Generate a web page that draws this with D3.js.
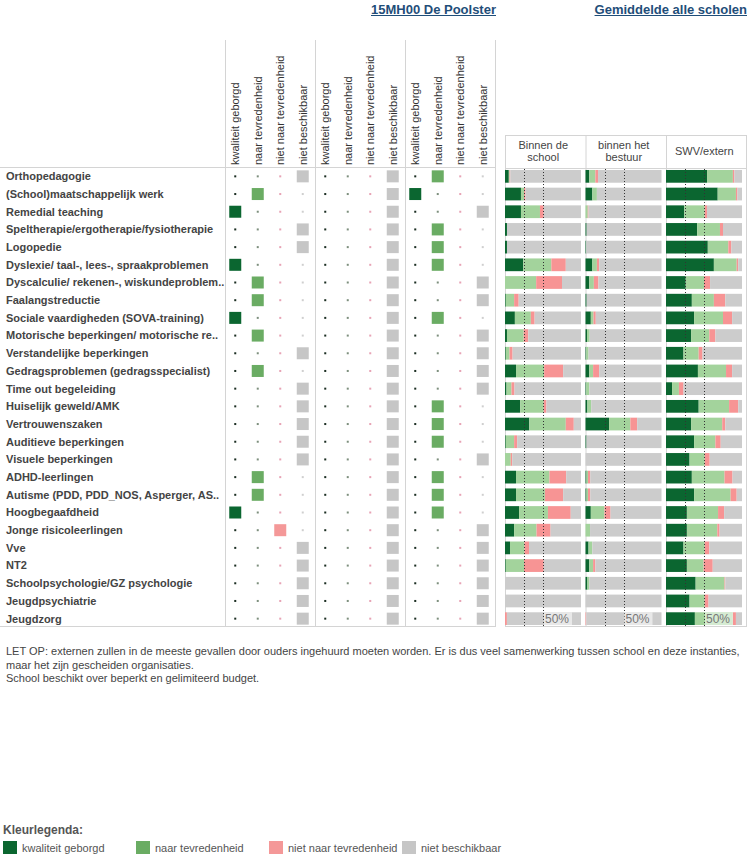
<!DOCTYPE html>
<html><head><meta charset="utf-8">
<script src="https://cdn.jsdelivr.net/npm/d3@7"></script>
<style>body{margin:0;background:#fff;} svg{display:block;font-family:"Liberation Sans",Arial,sans-serif;}</style>
</head><body><svg id="chart" width="747" height="864"></svg>
<script>
const categories = ["Orthopedagogie","(School)maatschappelijk werk","Remedial teaching","Speltherapie/ergotherapie/fysiotherapie","Logopedie","Dyslexie/ taal-, lees-, spraakproblemen","Dyscalculie/ rekenen-, wiskundeproblem..","Faalangstreductie","Sociale vaardigheden (SOVA-training)","Motorische beperkingen/ motorische re..","Verstandelijke beperkingen","Gedragsproblemen (gedragsspecialist)","Time out begeleiding","Huiselijk geweld/AMK","Vertrouwenszaken","Auditieve beperkingen","Visuele beperkingen","ADHD-leerlingen","Autisme (PDD, PDD_NOS, Asperger, AS..","Hoogbegaafdheid","Jonge risicoleerlingen","Vve","NT2","Schoolpsychologie/GZ psychologie","Jeugdpsychiatrie","Jeugdzorg"];
const statusLabels = ["kwaliteit geborgd","naar tevredenheid","niet naar tevredenheid","niet beschikbaar"];
// status index per category (0..3) for this school, per group
const schoolStatus  = [3,1,0,3,3,0,1,1,0,1,3,1,3,3,3,3,3,1,1,0,2,3,3,3,3,3];
const bestuurStatus = [3,3,3,3,3,3,3,3,3,3,3,3,3,3,3,3,3,3,3,3,3,3,3,3,3,3];
const externStatus  = [1,0,3,1,1,1,3,3,1,3,3,3,3,1,1,1,3,1,1,1,3,3,3,3,3,3];
const panelLabels = [["Binnen de","school"],["binnen het","bestuur"],["SWV/extern"]];
// averages all schools (percent)
const schoolGeborgd  = [5,21,21,2.6,2.6,24,0,1,13,2.6,1,14.5,2,20,32,1,0,14.5,14.5,18.5,12,6.6,1,0,0,0];
const schoolTevreden = [1,4,25,0,0,37,41,11,21,22,5,37,6.5,31,48,11,7.5,44,38,38,29.5,19,24,0,0,0];
const schoolNiet     = [1,2,5,0,0,19,34,6,5,6,4,25,4,3.5,10.5,4,2,22,24,30,18.5,6,26,0,0,2.5];
const bestuurGeborgd  = [5,9,0,1.5,1,9,5,1.5,7,2,1,5,1,2.5,31,1.3,0,1.3,1.3,7,0,4,5,2.5,0,0];
const bestuurTevreden = [8,6,3,0,0,6,6,0,3.5,3.5,3,5,4,5,28,0,0,2,2,18,6,5,5,2.5,0,0];
const bestuurNiet     = [3.5,0,1,0,0,3,6,0,3,0,0,8,0,0,9,0,0,3,3,8,0,0,3,0,0,1];
const externGeborgd  = [54,68,24,41,55,63,26,34,37,33,23,42,8,43,33,37,31,34,37,27.5,27.5,23,27.5,39,31,38];
const externTevreden = [34,24,27,30,27,30,24,29,38,24,20,37,9,40,41,28,20,43,48,41,40,28,22,38,20,50];
const externNiet     = [2,2,3,4,4,2,8,15,12,8,5,8,6,12,4,7,6.5,10.5,8,8,3,6,12,1,5,4];
const refTicks = [25,50];
const titles = ["15MH00 De Poolster","Gemiddelde alle scholen"];
const noteLines = ["LET OP: externen zullen in de meeste gevallen door ouders ingehuurd moeten worden. Er is dus veel samenwerking tussen school en deze instanties,","maar het zijn gescheiden organisaties.","School beschikt over beperkt en gelimiteerd budget."];

const matrixColors = ["#0b6630","#6aac63","#f49898","#c6c6c6"];
const barColors = ["#0b6630","#a3d39c","#f79494","#cccccc"];
const dotColors = ["#1b2e22","#7d8f7d","#e7a3b5","#cfcfcf"];
const lineColor = "#d4d4d4";

const svg = d3.select("#chart");
const y = d3.scaleBand().domain(categories).range([167.5,627.5]).paddingInner(0.28).paddingOuter(0.14);
const groupX = d3.scaleBand().domain([0,1,2]).range([225,495]);
const colX = d3.scaleBand().domain([0,1,2,3]).range([-1,89]);
const panelX = d3.scaleBand().domain([0,1,2]).range([505,746.5]);

// titles
const tpos = [496, 747];
titles.forEach((t,i)=>{
  const tx = svg.append("text").attr("x",tpos[i]).attr("y",13.5).attr("text-anchor","end")
    .attr("font-size",13).attr("font-weight","bold").attr("fill","#1f4e79").text(t);
  const w = tx.node().getComputedTextLength();
  svg.append("line").attr("x1",tpos[i]-w).attr("x2",tpos[i]).attr("y1",15.5).attr("y2",15.5)
    .attr("stroke","#1f4e79").attr("stroke-width",1);
});

// matrix grid lines
[225,315,405,495].forEach(x=>{
  svg.append("line").attr("x1",x+0.5).attr("x2",x+0.5).attr("y1",40).attr("y2",626).attr("stroke",lineColor);
});
svg.append("line").attr("x1",0).attr("x2",496).attr("y1",167.5).attr("y2",167.5).attr("stroke",lineColor);
svg.append("line").attr("x1",0).attr("x2",496).attr("y1",626.5).attr("y2",626.5).attr("stroke",lineColor);

// rotated headers
[0,1,2].forEach(g=>{
  statusLabels.forEach((lab,c)=>{
    const cx = groupX(g)+colX(c)+colX.bandwidth()/2;
    svg.append("text").attr("transform",`translate(${cx},165) rotate(-90)`)
      .attr("dy","0.35em").attr("font-size",11).attr("fill","#333").text(lab);
  });
});

// row labels
svg.append("g").selectAll("text").data(categories).join("text")
  .attr("x",6).attr("y",d=>y(d)+y.bandwidth()/2).attr("dy","0.35em")
  .attr("font-size",11).attr("font-weight","bold").attr("fill","#444").text(d=>d);

// matrix cells
const statusGroups = [schoolStatus,bestuurStatus,externStatus];
statusGroups.forEach((arr,g)=>{
  const gg = svg.append("g");
  categories.forEach((cat,i)=>{
    const cy = y(cat)+y.bandwidth()/2;
    for(let c=0;c<4;c++){
      const cx = groupX(g)+colX(c)+colX.bandwidth()/2;
      if(arr[i]===c){
        gg.append("rect").attr("x",cx-6).attr("y",cy-6).attr("width",12).attr("height",12).attr("fill",matrixColors[c]);
      } else {
        gg.append("rect").attr("x",cx-1).attr("y",cy-1).attr("width",2).attr("height",2).attr("fill",dotColors[c]);
      }
    }
  });
});

// right panel frame
const pL = 505, pR = 746.5;
svg.append("line").attr("x1",pL).attr("x2",pR).attr("y1",135.5).attr("y2",135.5).attr("stroke",lineColor);
svg.append("line").attr("x1",pL).attr("x2",pR).attr("y1",168.5).attr("y2",168.5).attr("stroke",lineColor);
svg.append("line").attr("x1",pL).attr("x2",pR).attr("y1",626.5).attr("y2",626.5).attr("stroke",lineColor);
[0,1,2].forEach(p=>{
  svg.append("line").attr("x1",panelX(p)+0.5).attr("x2",panelX(p)+0.5).attr("y1",135).attr("y2",627).attr("stroke",lineColor);
});
svg.append("line").attr("x1",pR).attr("x2",pR).attr("y1",135).attr("y2",627).attr("stroke",lineColor);

panelLabels.forEach((lines,p)=>{
  const cx = panelX(p)+panelX.bandwidth()/2 - 2;
  const t = svg.append("text").attr("text-anchor","middle").attr("font-size",11).attr("fill","#444");
  const y0 = lines.length===1 ? 151.5 : 145;
  lines.forEach((l,k)=>{
    t.append("tspan").attr("x",cx).attr("y",y0+k*12.5).attr("dy","0.35em").text(l);
  });
});

// bars
const panels = [
  [schoolGeborgd,schoolTevreden,schoolNiet],
  [bestuurGeborgd,bestuurTevreden,bestuurNiet],
  [externGeborgd,externTevreden,externNiet]
];
panels.forEach((series,p)=>{
  const left = panelX(p);
  const x = d3.scaleLinear().domain([0,100]).range([left,left+76]);
  const rows = categories.map((c,i)=>({cat:c, g:series[0][i], t:series[1][i], n:series[2][i], r:100-series[0][i]-series[1][i]-series[2][i]}));
  const stack = d3.stack().keys(["g","t","n","r"])(rows);
  const gp = svg.append("g");
  stack.forEach((layer,k)=>{
    gp.append("g").attr("fill",barColors[k]).selectAll("rect").data(layer).join("rect")
      .attr("x",d=>x(d[0])).attr("width",d=>Math.max(0,x(d[1])-x(d[0])))
      .attr("y",d=>y(d.data.cat)).attr("height",y.bandwidth());
  });
  refTicks.forEach(tk=>{
    gp.append("line").attr("x1",Math.round(x(tk))+0.5).attr("x2",Math.round(x(tk))+0.5)
      .attr("y1",169).attr("y2",626).attr("stroke","#333").attr("stroke-dasharray","1,2");
  });
  const last = categories[categories.length-1];
  gp.append("rect").attr("x",x(50)+1).attr("y",y(last)).attr("width",28).attr("height",y.bandwidth())
    .attr("fill","#fff").attr("opacity",0.55);
  gp.append("text").attr("x",x(50)+2).attr("y",y(last)+y.bandwidth()/2).attr("dy","0.35em")
    .attr("font-size",12).attr("fill","#777").text("50%");
});

// footnote
noteLines.forEach((l,k)=>{
  svg.append("text").attr("x",6).attr("y",655+k*13.5).attr("font-size",11).attr("fill","#444").text(l);
});

// legend
svg.append("text").attr("x",3).attr("y",834).attr("font-size",12).attr("font-weight","bold").attr("fill","#555").text("Kleurlegenda:");
statusLabels.forEach((lab,k)=>{
  const lx = 3 + k*133;
  svg.append("rect").attr("x",lx).attr("y",841).attr("width",14).attr("height",13).attr("fill",matrixColors[k]);
  svg.append("text").attr("x",lx+19).attr("y",848).attr("dy","0.35em").attr("font-size",11).attr("fill","#555").text(lab);
});
</script></body></html>
